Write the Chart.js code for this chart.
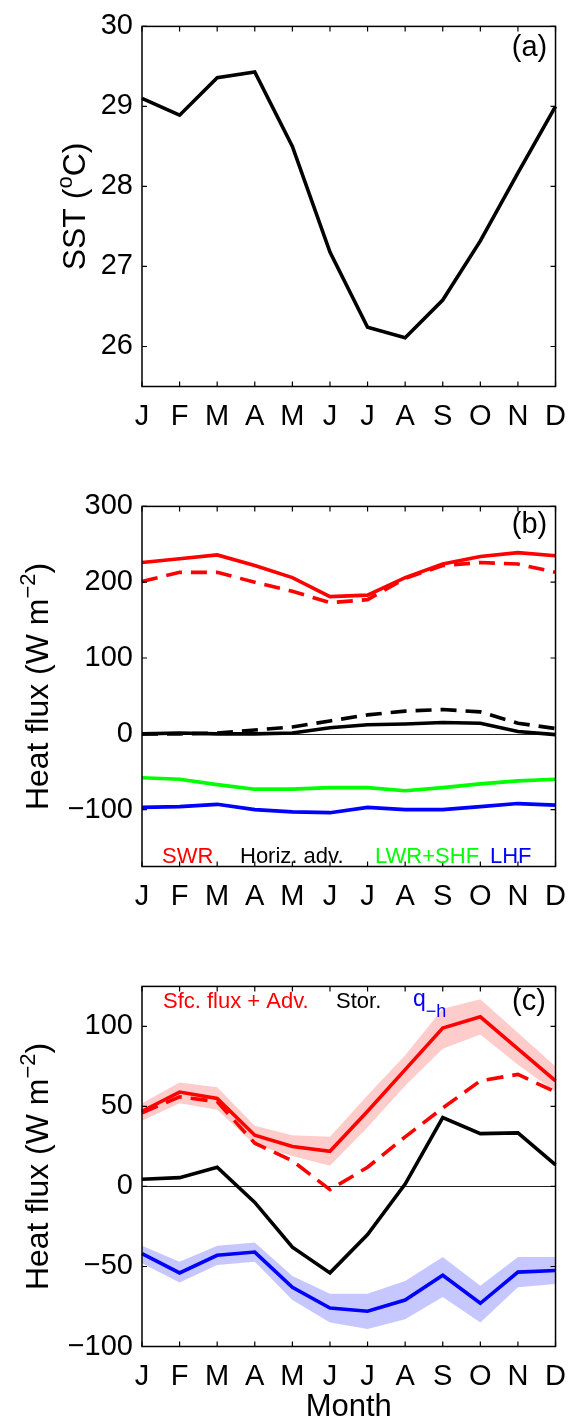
<!DOCTYPE html>
<html>
<head>
<meta charset="utf-8">
<script src="https://cdn.jsdelivr.net/npm/chart.js@4.4.1/dist/chart.umd.min.js"></script>
<style>
html,body{margin:0;padding:0;background:#fff;width:579px;height:1420px;overflow:hidden}
.p{position:absolute;left:0;width:579px}
canvas{display:block}
</style>
</head>
<body>
<div class="p" style="top:0"><canvas id="ca" width="579" height="480"></canvas></div>
<div class="p" style="top:480px"><canvas id="cb" width="579" height="480"></canvas></div>
<div class="p" style="top:960px"><canvas id="cc" width="579" height="460"></canvas></div>
<script>
// ---------- data ----------
const months = ['J','F','M','A','M','J','J','A','S','O','N','D'];

// panel (a): SST (deg C)
const sst = [29.10, 28.89, 29.36, 29.43, 28.50, 27.18, 26.24, 26.11, 26.58, 27.32, 28.17, 29.00];
const sstTicks = [26, 27, 28, 29, 30];

// panel (b): heat flux components (W m-2)
const swr       = [226, 231, 236, 222, 206, 181, 183, 206, 224, 234, 239, 235];
const swrDash   = [201, 213, 213, 200, 188, 173, 177, 205, 222, 226, 224, 213];
const adv       = [0, 1, 0, 0, 1, 8, 12, 13, 15, 14, 3, -1];
const advDash   = [0, 0, 1, 5, 9, 17, 25, 30, 32, 29, 14, 7];
const lwrShf    = [-58, -60, -67, -73, -73, -71, -71, -75, -71, -66, -62, -60];
const lhf       = [-97, -96, -93, -100, -103, -104, -97, -100, -100, -96, -92, -94];
const fluxTicksB = [-100, 0, 100, 200, 300];

// panel (c): budget terms (W m-2)
const sfcAdv     = [47, 59, 55, 32, 25, 22, 47, 73, 99, 106, 86, 66];
const sfcAdvHi   = [52, 65, 62, 38, 32, 31, 57, 82, 111, 117, 96, 75];
const sfcAdvLo   = [41, 52, 48, 26, 19, 13, 37, 63, 86, 95, 76, 59];
const sfcAdvDash = [46, 56, 53, 27, 16, -2, 12, 31, 49, 66, 70, 59];
const stor       = [4.5, 5.5, 12, -10, -38, -54, -30, 1.5, 43, 33, 33.5, 13.5];
const qh         = [-42, -54, -43, -41, -63, -76, -78, -71, -55.5, -73, -53.5, -52.5];
const qhHi       = [-37, -47, -37, -35, -56, -67, -67, -59, -44, -62, -44, -44];
const qhLo       = [-48, -60, -49, -47, -71, -85, -89, -83, -69, -85, -63, -61];
const fluxTicksC = [-100, -50, 0, 50, 100];

// ---------- styling ----------
const FAM = '"Liberation Sans", Arial, Helvetica, sans-serif';
const TICK = 29;
const RED = '#ff0000', GREEN = '#00ff00', BLUE = '#0000ff', BLACK = '#000000';
const LW = 3.6;

function drawRich(ctx, parts, x, y, align) {
  let w = 0;
  parts.forEach(p => { ctx.font = p.size + 'px ' + FAM; p.w = ctx.measureText(p.t).width; w += p.w; });
  let cx = align === 'center' ? x - w / 2 : (align === 'right' ? x - w : x);
  ctx.textAlign = 'left';
  parts.forEach(p => {
    ctx.font = p.size + 'px ' + FAM;
    ctx.fillStyle = p.color || '#000';
    ctx.fillText(p.t, cx, y + (p.dy || 0));
    cx += p.w;
  });
}

const deco = {
  id: 'deco',
  beforeDatasetsDraw(chart, args, o) {
    const {ctx, chartArea: a, scales: {y}} = chart;
    if (o.zeroLine) {
      const py = Math.round(y.getPixelForValue(0)) + 0.5;
      ctx.save();
      ctx.strokeStyle = '#222'; ctx.lineWidth = 1;
      ctx.beginPath(); ctx.moveTo(a.left, py); ctx.lineTo(a.right, py); ctx.stroke();
      ctx.restore();
    }
  },
  afterDatasetsDraw(chart, args, o) {
    const {ctx, chartArea: a, scales: {x, y}} = chart;
    ctx.save();
    ctx.strokeStyle = '#000'; ctx.lineWidth = 1.5;
    ctx.strokeRect(a.left, a.top, a.right - a.left, a.bottom - a.top);
    ctx.lineWidth = 1.2;
    const L = 5;
    ctx.beginPath();
    x.ticks.forEach((t, i) => {
      const px = x.getPixelForTick(i);
      ctx.moveTo(px, a.bottom); ctx.lineTo(px, a.bottom - L);
      ctx.moveTo(px, a.top); ctx.lineTo(px, a.top + L);
    });
    y.ticks.forEach(t => {
      const py = y.getPixelForValue(t.value);
      ctx.moveTo(a.left, py); ctx.lineTo(a.left + L, py);
      ctx.moveTo(a.right, py); ctx.lineTo(a.right - L, py);
    });
    ctx.stroke();
    ctx.restore();
  },
  afterDraw(chart, args, o) {
    const {ctx, chartArea: a} = chart;
    ctx.save();
    ctx.textBaseline = 'alphabetic';
    if (o.yTitle) {
      ctx.save();
      ctx.translate(o.yTitleX, (a.top + a.bottom) / 2);
      ctx.rotate(-Math.PI / 2);
      drawRich(ctx, o.yTitle, 0, 0, 'center');
      ctx.restore();
    }
    (o.texts || []).forEach(tx => {
      ctx.textBaseline = tx.baseline || 'alphabetic';
      drawRich(ctx, tx.parts, tx.x, tx.y, tx.align || 'left');
    });
    ctx.restore();
  }
};

function yTitleParts(main, sup, tail) {
  return [
    {t: main, size: 32},
    {t: sup, size: 22, dy: -13},
    {t: tail, size: 32}
  ];
}

function makeChart(id, h, datasets, yMin, yMax, yTicks, decoOpts, xTitle) {
  const xAxisH = h - 386.5;
  return new Chart(document.getElementById(id), {
    type: 'line',
    data: {labels: months, datasets},
    options: {
      responsive: false,
      animation: false,
      devicePixelRatio: 1,
      layout: {padding: {top: 16, right: 12, left: 0, bottom: 0}},
      elements: {point: {radius: 0}, line: {tension: 0, borderWidth: LW, borderCapStyle: 'butt', borderJoinStyle: 'miter'}},
      plugins: {legend: {display: false}, tooltip: {enabled: false}, deco: decoOpts},
      scales: {
        x: {
          type: 'category', offset: false,
          grid: {display: false, drawTicks: false}, border: {display: false},
          ticks: {color: '#000', font: {family: FAM, size: TICK}, padding: 13, maxRotation: 0, autoSkip: false},
          title: xTitle ? {display: true, text: xTitle, color: '#000', font: {family: FAM, size: 31, lineHeight: 1}, padding: {top: 0, bottom: -3}} : {display: false},
          afterFit: s => { s.height = xAxisH; }
        },
        y: {
          min: yMin, max: yMax,
          afterBuildTicks: s => { s.ticks = yTicks.map(v => ({value: v})); },
          grid: {display: false, drawTicks: false}, border: {display: false},
          ticks: {color: '#000', font: {family: FAM, size: TICK}, padding: 9,
                  callback: v => (v < 0 ? '\u2212' + Math.abs(v) : String(v))},
          afterFit: s => { s.width = 142; }
        }
      }
    },
    plugins: [deco]
  });
}

// panel (a)
makeChart('ca', 480, [
  {data: sst, borderColor: BLACK}
], 25.5, 30, sstTicks, {
  yTitle: yTitleParts('SST (', 'o', 'C)'), yTitleX: 85,
  texts: [{parts: [{t: '(a)', size: 29}], x: 529.5, y: 48, align: 'center', baseline: 'middle'}]
});

// panel (b)
makeChart('cb', 480, [
  {data: swr, borderColor: RED},
  {data: swrDash, borderColor: RED, borderDash: [16, 9]},
  {data: adv, borderColor: BLACK},
  {data: advDash, borderColor: BLACK, borderDash: [16, 9]},
  {data: lwrShf, borderColor: GREEN},
  {data: lhf, borderColor: BLUE}
], -175, 300, fluxTicksB, {
  zeroLine: true,
  yTitle: yTitleParts('Heat flux (W m', '\u22122', ')'), yTitleX: 48,
  texts: [
    {parts: [{t: '(b)', size: 29}], x: 529.5, y: 45, align: 'center', baseline: 'middle'},
    {parts: [{t: 'SWR', size: 22, color: RED}], x: 162, y: 383},
    {parts: [{t: 'Horiz. adv.', size: 22, color: BLACK}], x: 240, y: 383},
    {parts: [{t: 'LWR+SHF', size: 22, color: GREEN}], x: 375, y: 383},
    {parts: [{t: 'LHF', size: 22, color: BLUE}], x: 490, y: 383}
  ]
});

// panel (c)
makeChart('cc', 460, [
  {data: sfcAdv, borderColor: RED, order: 1},
  {data: sfcAdvDash, borderColor: RED, borderDash: [17, 9], order: 2},
  {data: stor, borderColor: BLACK, order: 3},
  {data: qh, borderColor: BLUE, order: 4},
  {data: sfcAdvHi, borderColor: 'rgba(0,0,0,0)', borderWidth: 0, order: 10},
  {data: sfcAdvLo, borderColor: 'rgba(0,0,0,0)', borderWidth: 0, fill: '-1', backgroundColor: 'rgba(255,0,0,0.2)', order: 10},
  {data: qhHi, borderColor: 'rgba(0,0,0,0)', borderWidth: 0, order: 11},
  {data: qhLo, borderColor: 'rgba(0,0,0,0)', borderWidth: 0, fill: '-1', backgroundColor: 'rgba(0,0,255,0.22)', order: 11}
], -100, 125, fluxTicksC, {
  zeroLine: true,
  yTitle: yTitleParts('Heat flux (W m', '\u22122', ')'), yTitleX: 48,
  texts: [
    {parts: [{t: '(c)', size: 29}], x: 529, y: 42, align: 'center', baseline: 'middle'},
    {parts: [{t: 'Sfc. flux + Adv.', size: 22, color: RED}], x: 163, y: 48},
    {parts: [{t: 'Stor.', size: 22, color: BLACK}], x: 336, y: 48},
    {parts: [{t: 'q', size: 23, color: BLUE}, {t: '\u2212h', size: 18, dy: 11, color: BLUE}], x: 413, y: 46}
  ]
}, 'Month');
</script>
</body>
</html>
